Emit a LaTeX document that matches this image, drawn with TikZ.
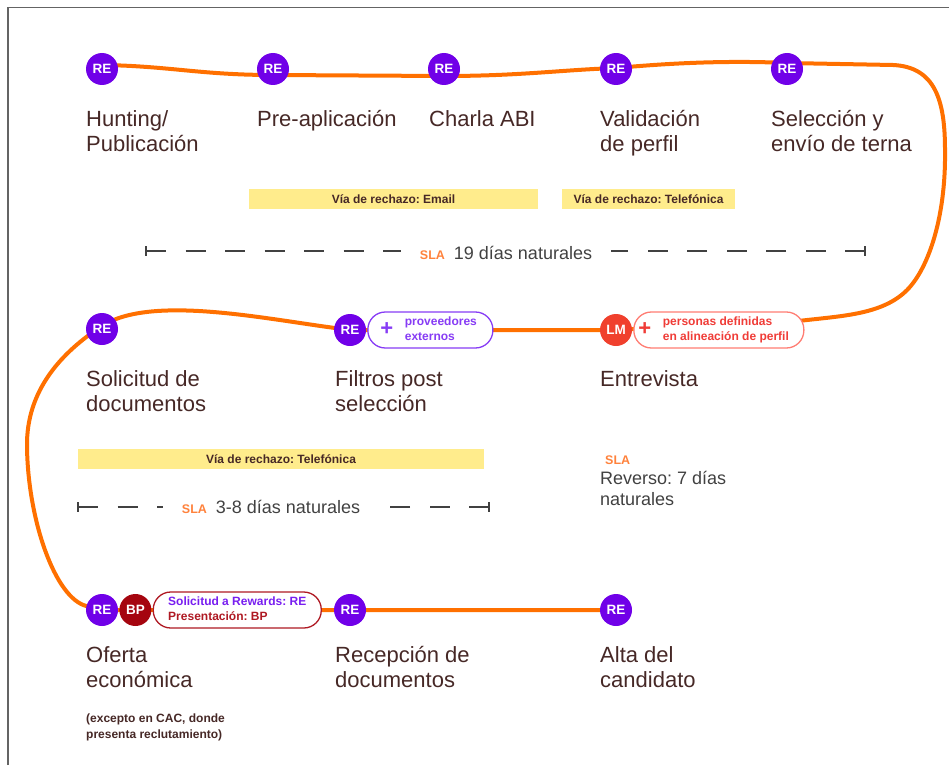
\documentclass[tikz,border=0pt]{standalone}
\usepackage{fontspec}
\setmainfont{Liberation Sans}
\usetikzlibrary{positioning,calc,backgrounds}
\definecolor{trackcol}{RGB}{255,112,0}
\definecolor{recol}{RGB}{112,0,232}
\definecolor{lmcol}{RGB}{240,64,45}
\definecolor{bpcol}{RGB}{165,5,15}
\definecolor{labelcol}{RGB}{70,40,38}
\definecolor{slacol}{RGB}{65,65,65}
\definecolor{slatagcol}{RGB}{255,130,60}
\definecolor{bandcol}{RGB}{255,236,140}
\definecolor{extcol}{RGB}{135,60,245}
\definecolor{persedge}{RGB}{255,125,115}
\definecolor{perstext}{RGB}{240,60,55}
\definecolor{rewcol}{RGB}{175,25,35}
\definecolor{rewre}{RGB}{120,30,240}
\definecolor{framecol}{RGB}{100,100,100}
\newcommand{\slatag}{{\color{slatagcol}\bfseries\fontsize{12.5}{14}\selectfont SLA}}
\frenchspacing

\begin{document}
\begin{tikzpicture}[
  x=1pt, y=-1pt,
  every node/.style={inner sep=0pt},
  actor/.style={
    circle, minimum size=32pt, text=white,
    font=\bfseries\fontsize{13.5}{13.5}\selectfont
  },
  re/.style={actor, fill=recol},
  lm/.style={actor, fill=lmcol},
  bp/.style={actor, fill=bpcol},
  % base of a two-line node is the last line
  stage/.style={
    anchor=base west, align=left, text=labelcol,
    font=\fontsize{22}{25}\selectfont
  },
  note/.style={
    anchor=base west, align=left, text=labelcol,
    font=\bfseries\fontsize{12}{15.5}\selectfont
  },
  band/.style={
    fill=bandcol, minimum height=20pt, text=labelcol,
    font=\bfseries\fontsize{12}{14}\selectfont
  },
  pill/.style={
    draw, fill=white, line width=1.3pt, rounded corners=17.5pt,
    minimum height=36pt, inner xsep=10pt,
    font=\bfseries\fontsize{12}{15}\selectfont
  },
  extpill/.style={pill, draw=extcol, text=extcol},
  perspill/.style={pill, draw=persedge, text=perstext},
  rewpill/.style={pill, draw=rewcol, text=rewcol},
  plus/.style={font=\bfseries\fontsize{22}{22}\selectfont},
  sla/.style={
    anchor=base, inner xsep=19pt, text=slacol,
    font=\fontsize{18}{21.7}\selectfont
  },
  dashline/.style={draw=slacol, line width=1.3pt, dash pattern=on 20pt off 19.5pt},
  tick/.style={draw=slacol, line width=1.6pt},
  track/.style={draw=trackcol, line width=4pt, line cap=round},
  frame/.style={draw=framecol, line width=1.3pt},
]
\useasboundingbox (0,0) rectangle (949,765);

% ---- Frame ----
\draw[frame] (8,765) -- (8,7.3) -- (949,7.3);

% ---- Row 1: circles and stage names ----
\node (hunt)   at (102,69) [re] {RE};
\node (preap)  at (273,69) [re] {RE};
\node (charla) at (444,69) [re] {RE};
\node (valid)  at (616,69) [re] {RE};
\node (selec)  at (787,69) [re] {RE};

\node (hunt-t)   at (86,151)  [stage] {Hunting/\\Publicación};
\node (preap-t)  at (257,126) [stage] {Pre-aplicación};
\node (charla-t) at (429,126) [stage] {Charla ABI};
\node (valid-t)  at (600,151) [stage] {Validación\\de perfil};
\node (selec-t)  at (771,151) [stage] {Selección y\\envío de terna};

\node (band1) at (393.5,199) [band, minimum width=289pt] {Vía de rechazo: Email};
\node (band2) at (648.5,199) [band, minimum width=173pt] {Vía de rechazo: Telefónica};

% ---- Row 1: SLA ----
\coordinate (s1l) at (146,251);
\coordinate (s1r) at (865,251);
\node (sla1) at (506,259) [sla] {\slatag\hspace{9pt}19 días naturales};
\draw[dashline] (s1l) -- (s1l -| sla1.west);
\draw[dashline] (s1r) -- (s1r -| sla1.east);
\draw[tick] ($(s1l)+(0,-5)$) -- ($(s1l)+(0,5)$);
\draw[tick] ($(s1r)+(0,-5)$) -- ($(s1r)+(0,5)$);

% ---- Row 2 ----
\node (soli) at (102,329) [re] {RE};
\node (filt) at (350,330) [re] {RE};
\node (pext) [extpill, minimum width=125pt, right=1pt of filt]
  {\hspace{21pt}\begin{tabular}{@{}l@{}}proveedores\\externos\end{tabular}};
\node (pext-plus) at ($(pext.west)+(19.7,-1)$) [plus, text=extcol] {+};
\node (entr) at (616,330) [lm] {LM};
\node (ppers) [perspill, minimum width=170pt, right=1pt of entr]
  {\hspace{14pt}\begin{tabular}{@{}l@{}}personas definidas\\en alineación de perfil\end{tabular}};
\node (ppers-plus) at ($(ppers.west)+(11.5,-1)$) [plus, text=perstext] {+};

\node (soli-t) at (86,411)  [stage] {Solicitud de\\documentos};
\node (filt-t) at (335,411) [stage] {Filtros post\\selección};
\node (entr-t) at (600,386) [stage] {Entrevista};

\node (band3) at (281,459) [band, minimum width=406pt] {Vía de rechazo: Telefónica};

% ---- Row 2: SLA ----
\coordinate (s2l) at (78,507);
\coordinate (s2r) at (489,507);
\node (sla2) at (271,513) [sla] {\slatag\hspace{9pt}3-8 días naturales};
\draw[dashline] (s2l) -- (s2l -| sla2.west);
\draw[dashline] (s2r) -- (s2r -| sla2.east);
\draw[tick] ($(s2l)+(0,-5)$) -- ($(s2l)+(0,5)$);
\draw[tick] ($(s2r)+(0,-5)$) -- ($(s2r)+(0,5)$);

\node (slarev) at (605,464) [anchor=base west] {\slatag};
\node (rev) at (600,505.7) [anchor=base west, align=left, text=slacol,
  font=\fontsize{18}{21.7}\selectfont] {Reverso: 7 días\\naturales};

% ---- Row 3 ----
\node (ofer)  at (102,610) [re] {RE};
\node (bp)    [bp, right=1pt of ofer] {BP};
\node (preward) [rewpill, minimum width=168pt, right=1pt of bp]
  {\begin{tabular}{@{}l@{}}\textcolor{rewre}{Solicitud a Rewards: RE}\\Presentación: BP\end{tabular}};
\node (recep) at (350,610) [re] {RE};
\node (alta)  at (616,610) [re] {RE};

\node (ofer-t)  at (86,687)  [stage] {Oferta\\económica};
\node (recep-t) at (335,687) [stage] {Recepción de\\documentos};
\node (alta-t)  at (600,687) [stage] {Alta del\\candidato};
\node (ofer-n)  at (86,738)  [note] {(excepto en CAC, donde\\presenta reclutamiento)};

% ---- Track ----
\begin{scope}[on background layer]
\draw[track]
  ($(hunt)+(0,-4)$) .. controls (170,66) and (200,75) .. ($(preap)+(0,6)$)
  -- ($(charla)+(0,7)$)
  .. controls (520,76) and (560,70) .. ($(valid)+(0,-1)$)
  .. controls (660,64) and (720,60) .. ($(selec)+(0,-6)$)
  -- (893,65)
  .. controls (935,67) and (945,100) .. (945,150)
  .. controls (946,220) and (927,272) .. (905,292)
  .. controls (880,315) and (840,316) .. ($(ppers.east)+(-6,-9)$)
  -- (entr) -- (pext) -- (filt)
  .. controls (260,318) and (150,295) .. ($(soli)+(0,-3)$)
  .. controls (62,352) and (26,390) .. (27,447)
  .. controls (28,520) and (55,598) .. (ofer)
  -- (bp) -- (preward) -- (recep) -- (alta);
\end{scope}

\end{tikzpicture}
\end{document}
